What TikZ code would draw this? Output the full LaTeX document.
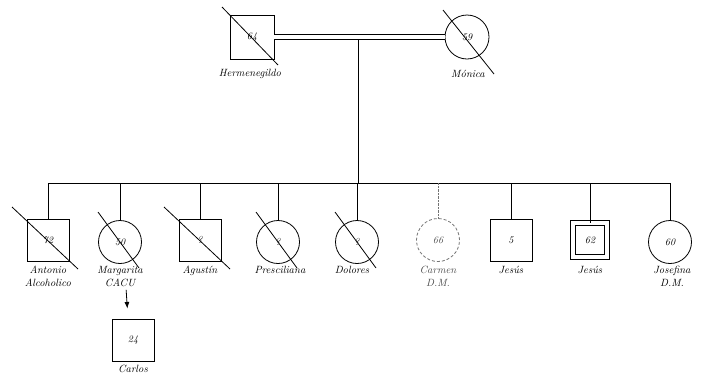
\documentclass[tikz,border=0pt]{standalone}
\usepackage{tikz}
\usetikzlibrary{arrows.meta}

\begin{document}
\begin{tikzpicture}[x=1pt,y=-1pt,>=Latex,
    male/.style={draw,thick,minimum size=42pt,inner sep=0pt,font=\itshape},
    female/.style={circle,draw,thick,minimum size=43pt,inner sep=0pt,font=\itshape},
    lbl/.style={font=\fontsize{10.5}{13}\selectfont\itshape,align=center,inner sep=1pt,anchor=north},
    gone/.style={thick}]
  \useasboundingbox (0,0) rectangle (704,381);
  \def\yC{240}   % fila de los hijos
  \def\yL{265}   % nombres de los hijos

  % ================= Pareja =================
  \node[male,minimum size=44pt] (herm) at (252,37) {64};
  \node[female,minimum size=44pt] (monica) at (467,37) {59};
  \draw[semithick,double,double distance=4pt] (herm) -- (monica);
  \draw[gone] ([shift={(-30,-30)}]herm.center) -- ([shift={(26,28)}]herm.center);
  \draw[gone] ([shift={(-24,-27)}]monica.center) -- ([shift={(27,37)}]monica.center);
  \node[lbl] (hermL) at (250,68) {Hermenegildo};
  \node[lbl] (monicaL) at (468,69) {Mónica};

  % ================= Linea de hermanos =================
  \coordinate (cpl) at (358,39);
  \coordinate (sibL) at (48,183);
  \coordinate (sibR) at (670,183);
  \draw[thick] (cpl) -- (cpl |- sibL);
  \draw[thick] (sibL) -- (sibR);

  % ================= Hijos =================
  \node[male] (antonio) at (48,\yC) {72};
  \node[female] (margarita) at (120,242) {50};
  \node[male] (agustin) at (200,\yC) {?};
  \node[female] (presciliana) at (278,242) {?};
  \node[female] (dolores) at (357,242) {?};
  \node[female,draw=black!55,densely dashed,text=black!70] (carmen) at (438,240) {66};
  \node[male] (jesusA) at (511,\yC) {5};
  \node[male,double,double distance=4pt,minimum size=34pt] (jesusB) at (590,\yC) {62};
  \node[female] (josefina) at (670,242) {60};

  \foreach \c in {antonio,margarita,agustin,presciliana,dolores,jesusA,jesusB,josefina}
    \draw[thick] (\c.north |- sibL) -- (\c.north);
  \draw[black!55,densely dotted] (carmen.north |- sibL) -- (carmen.north);

  % fallecidos
  \foreach \c in {antonio,agustin}
    \draw[gone] ([shift={(-36,-33)}]\c.center) -- ([shift={(30,29)}]\c.center);
  \foreach \c in {margarita,presciliana,dolores}
    \draw[gone] ([shift={(-22,-30)}]\c.center) -- ([shift={(19,26)}]\c.center);

  % nombres
  \node[lbl] (antonioL) at (48,\yL) {Antonio\\Alcoholico};
  \node[lbl] (margaritaL) at (120,\yL) {Margarita\\CACU};
  \node[lbl] (agustinL) at (200,\yL) {Agustín};
  \node[lbl] (prescilianaL) at (280,\yL) {Presciliana};
  \node[lbl] (doloresL) at (352,\yL) {Dolores};
  \node[lbl,text=black!70] (carmenL) at (438,\yL) {Carmen\\D.M.};
  \node[lbl] (jesusAL) at (511,\yL) {Jesús};
  \node[lbl] (jesusBL) at (590,\yL) {Jesús};
  \node[lbl] (josefinaL) at (672,\yL) {Josefina\\D.M.};

  % ================= Nieto =================
  \node[male] (carlos) at (133,340) {24};
  \node[lbl] (carlosL) at (133,364) {Carlos};
  \draw[thick,->,shorten <=2pt,shorten >=10pt]
    ([xshift=6pt]margaritaL.south) -- ([xshift=-5pt]carlos.north);
\end{tikzpicture}
\end{document}
